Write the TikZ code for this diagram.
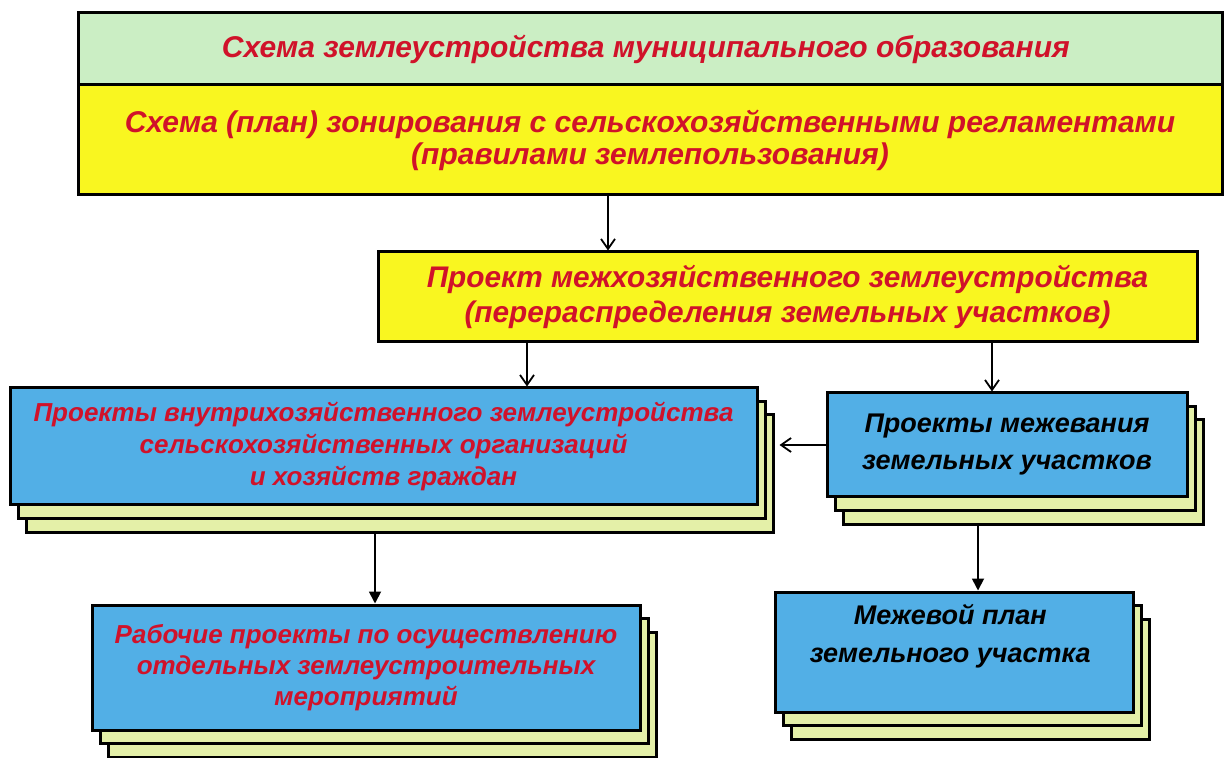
\documentclass[tikz,border=0pt]{standalone}
\usepackage{fontspec}
\setmainfont{Liberation Sans}
\usetikzlibrary{positioning, shadows, arrows.meta, calc}
\definecolor{cmint}{HTML}{CBEEC4}
\definecolor{cyell}{HTML}{F9F620}
\definecolor{cblue}{HTML}{52AFE6}
\definecolor{cpale}{HTML}{E4F0A8}
\definecolor{cred}{HTML}{D0122A}

\begin{document}
\begin{tikzpicture}[
  x=0.5pt, y=0.5pt,
  every node/.append style={align=center, inner sep=0pt},
  bandbox/.style={
    rectangle, draw=black, line width=1.5pt, text=cred
  },
  stackbox/.style={
    rectangle, draw=black, line width=1.5pt, fill=cblue,
    copy shadow={shadow xshift=8pt, shadow yshift=-13.5pt,
      fill=cpale, draw=black, line width=1.5pt},
    copy shadow={shadow xshift=4pt, shadow yshift=-6.75pt,
      fill=cpale, draw=black, line width=1.5pt}
  },
  arr/.style={draw=black, line width=0.9pt, -{Straight Barb[length=5pt, width=7pt]}},
  arrf/.style={draw=black, line width=0.9pt, -{Triangle[length=6pt, width=6pt]}}
]

\useasboundingbox[fill=white] (0,0) rectangle (1225,-758);

% upper bands
\node[bandbox, fill=cmint, minimum width=572pt, minimum height=36pt,
  font=\bfseries\itshape\fontsize{15}{16}\selectfont] (muni) at (650,-49) {%
  Схема землеустройства муниципального образования
};
\node[bandbox, fill=cyell, minimum width=572pt, minimum height=55pt,
  font=\bfseries\itshape\fontsize{15}{16}\selectfont] (zone) at (650,-140) {%
  Схема (план) зонирования с сельскохозяйственными регламентами\\
  (правилами землепользования)
};

\node[bandbox, fill=cyell, minimum width=409.5pt, minimum height=45pt,
  font=\bfseries\itshape\fontsize{14.9}{17.5}\selectfont] (proj) at (787.5,-297) {%
  Проект межхозяйственного землеустройства\\
  (перераспределения земельных участков)
};

% stacked project boxes
\node[stackbox, text=cred, minimum width=373.5pt, minimum height=58.5pt,
  font=\bfseries\itshape\fontsize{13}{16}\selectfont] (inner) at (383.5,-446.5) {%
  Проекты внутрихозяйственного землеустройства\\
  сельскохозяйственных организаций\\
  и хозяйств граждан
};
\node[stackbox, text=black, minimum width=180pt, minimum height=52pt,
  font=\bfseries\itshape\fontsize{13.5}{18.5}\selectfont] (mezh) at (1007,-445) {%
  Проекты межевания\\
  земельных участков
};
\node[stackbox, text=cred, minimum width=274pt, minimum height=62.5pt,
  font=\bfseries\itshape\fontsize{13}{15.5}\selectfont] (work) at (366,-667.5) {%
  Рабочие проекты по осуществлению\\
  отдельных землеустроительных\\
  мероприятий
};
\node[stackbox, text=black, minimum width=179pt, minimum height=60pt,
  font=\bfseries\itshape\fontsize{13.5}{19}\selectfont] (plan) at (954,-652) {%
  \raisebox{4.5pt}[0pt][0pt]{\begin{tabular}{@{}c@{}}Межевой план\\ земельного участка\end{tabular}}
};

% connectors
\draw[arr] (zone.south -| 608,0) -- (proj.north -| 608,0);
\draw[arr] (proj.south -| 527,0) -- (inner.north -| 527,0);
\draw[arr] (proj.south -| 992,0) -- (mezh.north -| 992,0);
\draw[arr] (mezh.west) -- ($(inner.east |- mezh.west)+(21,0)$);
\draw[arrf] ($(inner.south -| 375,0)+(0,-27)$) -- (work.north -| 375,0);
\draw[arrf] ($(mezh.south -| 978,0)+(0,-27)$) -- (plan.north -| 978,0);

\end{tikzpicture}
\end{document}
